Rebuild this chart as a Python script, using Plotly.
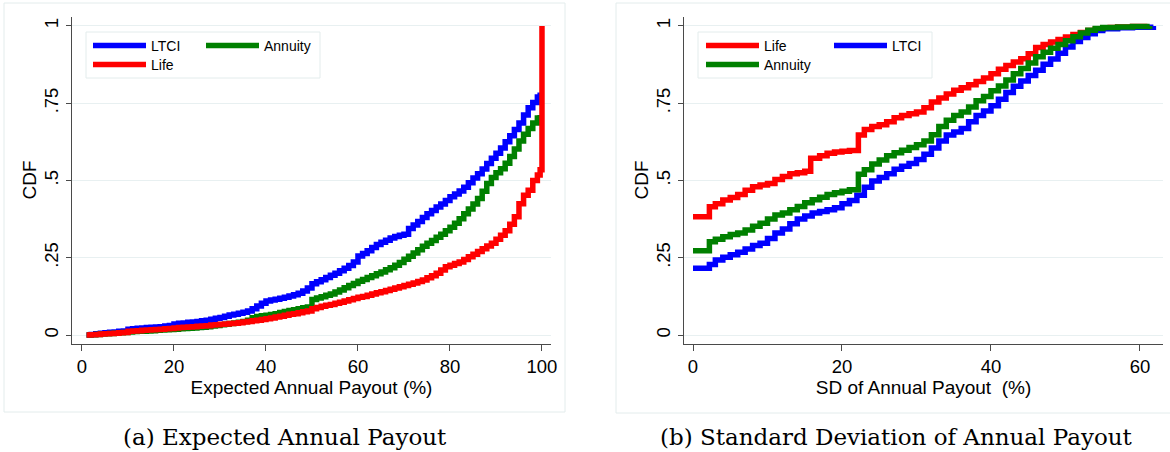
import plotly.graph_objects as go

# ---------------- data ----------------
# Panel (a): Expected Annual Payout (%)
a_ltci_x = [1, 2, 3, 4, 5, 6, 7, 8, 9, 10, 11, 12, 13, 14, 15, 16, 17, 18, 19, 20, 21, 22, 23,
            24, 25, 26, 27, 28, 29, 30, 31, 32, 33, 34, 35, 36, 37, 38, 39, 40, 41, 42, 43, 44,
            45, 46, 47, 48, 49, 50, 51, 52, 53, 54, 55, 56, 57, 58, 59, 60, 61, 62, 63, 64, 65,
            66, 67, 68, 69, 70, 71, 72, 73, 74, 75, 76, 77, 78, 79, 80, 81, 82, 83, 84, 85, 86,
            87, 88, 89, 90, 91, 92, 93, 94, 95, 96, 97, 98, 99, 99.6]
a_ltci_y = [0.000, 0.002, 0.004, 0.006, 0.007, 0.009, 0.010, 0.012, 0.013, 0.019, 0.020, 0.022,
            0.023, 0.024, 0.025, 0.026, 0.027, 0.029, 0.031, 0.036, 0.038, 0.039, 0.041, 0.042,
            0.044, 0.046, 0.048, 0.051, 0.054, 0.057, 0.061, 0.065, 0.067, 0.070, 0.074, 0.078,
            0.085, 0.094, 0.103, 0.110, 0.113, 0.116, 0.119, 0.122, 0.126, 0.130, 0.135, 0.142,
            0.152, 0.166, 0.172, 0.179, 0.186, 0.193, 0.200, 0.208, 0.216, 0.225, 0.236, 0.256,
            0.264, 0.273, 0.283, 0.293, 0.300, 0.307, 0.314, 0.319, 0.323, 0.326, 0.345, 0.356,
            0.367, 0.380, 0.392, 0.403, 0.414, 0.424, 0.435, 0.447, 0.456, 0.466, 0.478, 0.493,
            0.508, 0.522, 0.537, 0.555, 0.572, 0.588, 0.605, 0.625, 0.645, 0.665, 0.686, 0.712,
            0.735, 0.752, 0.770, 0.785]

a_ann_x = a_ltci_x
a_ann_y = [0.000, 0.001, 0.002, 0.003, 0.004, 0.005, 0.006, 0.007, 0.008, 0.010, 0.011, 0.012,
           0.012, 0.013, 0.014, 0.015, 0.016, 0.017, 0.018, 0.019, 0.020, 0.021, 0.022, 0.023,
           0.024, 0.025, 0.027, 0.029, 0.031, 0.033, 0.035, 0.037, 0.039, 0.041, 0.044, 0.048,
           0.056, 0.060, 0.062, 0.064, 0.066, 0.069, 0.073, 0.076, 0.079, 0.082, 0.085, 0.088,
           0.091, 0.115, 0.120, 0.124, 0.129, 0.133, 0.139, 0.146, 0.153, 0.160, 0.167, 0.174,
           0.180, 0.186, 0.192, 0.198, 0.204, 0.211, 0.218, 0.226, 0.235, 0.245, 0.255, 0.265,
           0.276, 0.287, 0.297, 0.306, 0.316, 0.326, 0.337, 0.349, 0.362, 0.376, 0.392, 0.408,
           0.424, 0.442, 0.465, 0.490, 0.510, 0.525, 0.538, 0.556, 0.578, 0.602, 0.628, 0.650,
           0.668, 0.686, 0.702, 0.712]

a_life_x = a_ltci_x + [100]
a_life_y = [0.000, 0.001, 0.002, 0.003, 0.004, 0.005, 0.006, 0.007, 0.008, 0.012, 0.013, 0.014,
            0.015, 0.016, 0.017, 0.018, 0.019, 0.020, 0.021, 0.023, 0.024, 0.025, 0.026, 0.027,
            0.028, 0.029, 0.030, 0.032, 0.033, 0.035, 0.036, 0.037, 0.038, 0.040, 0.042, 0.044,
            0.046, 0.048, 0.050, 0.053, 0.055, 0.058, 0.061, 0.064, 0.067, 0.069, 0.072, 0.075,
            0.078, 0.085, 0.089, 0.093, 0.096, 0.099, 0.103, 0.106, 0.110, 0.114, 0.118, 0.122,
            0.125, 0.129, 0.133, 0.137, 0.140, 0.144, 0.148, 0.152, 0.156, 0.160, 0.164, 0.168,
            0.173, 0.178, 0.185, 0.192, 0.200, 0.210, 0.221, 0.226, 0.231, 0.236, 0.244, 0.253,
            0.261, 0.270, 0.279, 0.288, 0.297, 0.310, 0.323, 0.337, 0.358, 0.383, 0.425, 0.452,
            0.468, 0.500, 0.518, 0.535, 1.000]

# Panel (b): SD of Annual Payout (%)
b_life_x = [0, 2.2, 3, 4, 5, 6, 7, 8, 9, 10, 11, 12, 13, 14, 15, 15.8, 17, 18, 19, 20, 21,
            22.2, 23, 24, 25, 26, 27, 28, 29, 30, 31, 32, 33, 34, 35, 36, 37, 38, 39, 40, 41,
            42, 43, 44, 45, 46, 47, 48, 49, 50, 51, 52, 53, 54, 55, 56, 57, 59, 61]
b_life_y = [0.383, 0.415, 0.425, 0.437, 0.445, 0.455, 0.468, 0.480, 0.485, 0.490, 0.503, 0.513,
            0.522, 0.525, 0.530, 0.572, 0.580, 0.588, 0.592, 0.595, 0.597, 0.647, 0.665, 0.675,
            0.680, 0.690, 0.703, 0.710, 0.716, 0.722, 0.735, 0.754, 0.767, 0.780, 0.792, 0.800,
            0.810, 0.820, 0.832, 0.845, 0.860, 0.872, 0.883, 0.894, 0.910, 0.930, 0.940, 0.948,
            0.956, 0.964, 0.972, 0.979, 0.985, 0.990, 0.993, 0.995, 0.997, 0.998, 1.000]

b_ltci_x = [0, 2.2, 3, 4, 5, 6, 7, 8, 9, 10, 11, 12, 13, 14, 15, 16, 17, 18, 19, 20, 21, 22,
            23, 24, 25, 26, 27, 28, 29, 30, 31, 32, 33, 34, 35, 36, 37, 38, 39, 40, 41, 42, 43,
            44, 45, 46, 47, 48, 49, 50, 51, 52, 53, 54, 55, 57, 59, 61.8]
b_ltci_y = [0.216, 0.228, 0.243, 0.252, 0.260, 0.268, 0.278, 0.290, 0.297, 0.312, 0.330, 0.343,
            0.360, 0.375, 0.385, 0.395, 0.400, 0.405, 0.412, 0.425, 0.435, 0.452, 0.478, 0.498,
            0.510, 0.522, 0.536, 0.546, 0.555, 0.568, 0.585, 0.605, 0.628, 0.647, 0.657, 0.668,
            0.690, 0.710, 0.725, 0.742, 0.763, 0.785, 0.805, 0.822, 0.840, 0.857, 0.876, 0.893,
            0.912, 0.932, 0.950, 0.963, 0.975, 0.985, 0.991, 0.994, 0.996, 1.000]

b_ann_x = [0, 2.2, 3, 4, 5, 6, 7, 8, 9, 10, 11, 12, 13, 14, 15, 16, 17, 18, 19, 20, 21, 22.2,
           23, 24, 25, 26, 27, 28, 29, 30, 31, 32, 33, 34, 35, 36, 37, 38, 39, 40, 41, 42, 43,
           44, 45, 46, 47, 48, 49, 50, 51, 52, 53, 54, 55, 57, 59, 61.3]
b_ann_y = [0.273, 0.302, 0.310, 0.318, 0.325, 0.330, 0.340, 0.352, 0.362, 0.375, 0.388, 0.395,
           0.405, 0.416, 0.428, 0.438, 0.446, 0.455, 0.460, 0.465, 0.470, 0.520, 0.535, 0.553,
           0.566, 0.580, 0.590, 0.598, 0.607, 0.616, 0.628, 0.648, 0.675, 0.695, 0.710, 0.722,
           0.738, 0.758, 0.772, 0.790, 0.806, 0.825, 0.845, 0.862, 0.880, 0.900, 0.915, 0.928,
           0.940, 0.952, 0.965, 0.977, 0.986, 0.992, 0.995, 0.997, 0.998, 1.000]

y_tickvals = [0, 0.25, 0.5, 0.75, 1]
y_ticktext = ["0", ".25", ".5", ".75", "1"]
a_xticks = [0, 20, 40, 60, 80, 100]
b_xticks = [0, 20, 40, 60]

captions = ["(a) Expected Annual Payout", "(b) Standard Deviation of Annual Payout"]
x_titles = ["Expected Annual Payout (%)", "SD of Annual Payout  (%)"]
y_title = "CDF"

# ---------------- styling ----------------
W, H = 1170, 452
BLUE, GREEN, RED = "#0000ff", "#008000", "#ff0000"
LW = 5.5
SANS = "Liberation Sans, Arial, sans-serif"
SERIF = "DejaVu Serif, serif"
GRID = "#e8f0f1"
AXC = "#4a4a4a"
TICK_FS = 18.5
TITLE_FS = 19


def px(x):
    return x / W


def py(y):
    return 1 - y / H


fig = go.Figure()


def add(x, y, name, color, xa, ya, legend):
    fig.add_trace(go.Scatter(
        x=x, y=y, name=name, mode="lines",
        line=dict(color=color, width=LW, shape="hv"),
        xaxis=xa, yaxis=ya, legend=legend, hoverinfo="skip"))


# panel (a): draw order LTCI, Annuity, Life
add(a_ltci_x, a_ltci_y, "LTCI", BLUE, "x", "y", "legend")
add(a_ann_x, a_ann_y, "Annuity", GREEN, "x", "y", "legend2")
add(a_life_x, a_life_y, "Life", RED, "x", "y", "legend3")
# panel (b): draw order Life, LTCI, Annuity
add(b_life_x, b_life_y, "Life", RED, "x2", "y2", "legend4")
add(b_ltci_x, b_ltci_y, "LTCI", BLUE, "x2", "y2", "legend5")
add(b_ann_x, b_ann_y, "Annuity", GREEN, "x2", "y2", "legend6")

ydom = [py(344), py(17)]
common_x = dict(showgrid=False, zeroline=False, showline=True, linecolor=AXC, linewidth=1,
                ticks="outside", ticklen=6, tickcolor=AXC, tickwidth=1,
                tickfont=dict(family=SANS, size=TICK_FS, color="#000"), automargin=False,
                fixedrange=True)
common_y = dict(showgrid=True, gridcolor=GRID, gridwidth=1, zeroline=False, showline=True,
                linecolor=AXC, linewidth=1, ticks="outside", ticklen=5, tickcolor=AXC,
                tickwidth=1, tickangle=-90, tickvals=y_tickvals, ticktext=y_ticktext,
                ticklabelstandoff=1,
                tickfont=dict(family=SANS, size=TICK_FS, color="#000"), automargin=False,
                range=[-0.0291, 1.029], domain=ydom, fixedrange=True)

leg_common = dict(orientation="v", bgcolor="rgba(0,0,0,0)", borderwidth=0,
                  font=dict(family=SANS, size=14, color="#000"), xanchor="left",
                  yanchor="top", itemwidth=53, itemclick=False, itemdoubleclick=False)

ROW1, ROW2 = 30, 49
fig.update_layout(
    width=W, height=H, margin=dict(l=0, r=0, t=0, b=0), template="none",
    paper_bgcolor="white", plot_bgcolor="white", showlegend=True,
    xaxis=dict(common_x, domain=[px(72), px(551)], range=[-2.17, 101.96],
               tickvals=a_xticks, anchor="y",
               title=dict(text=x_titles[0],
                          font=dict(family=SANS, size=TITLE_FS, color="#000"), standoff=0)),
    yaxis=dict(common_y, anchor="x"),
    xaxis2=dict(common_x, domain=[px(684), px(1163)], range=[-1.208, 63.09],
                tickvals=b_xticks, anchor="y2",
                title=dict(text=x_titles[1],
                           font=dict(family=SANS, size=TITLE_FS, color="#000"), standoff=0)),
    yaxis2=dict(common_y, anchor="x2"),
    legend=dict(leg_common, x=px(88), y=py(ROW1)),
    legend2=dict(leg_common, x=px(201), y=py(ROW1)),
    legend3=dict(leg_common, x=px(88), y=py(ROW2)),
    legend4=dict(leg_common, x=px(701), y=py(ROW1)),
    legend5=dict(leg_common, x=px(829), y=py(ROW1)),
    legend6=dict(leg_common, x=px(701), y=py(ROW2)),
)

# outer panel boxes and legend boxes
for (x0, y0, x1, y1) in [(4, 3, 565, 412), (616, 3, 1172, 413),
                         (86, 32, 320, 78), (698, 32, 932, 78)]:
    fig.add_shape(type="rect", xref="paper", yref="paper", x0=px(x0), x1=px(x1),
                  y0=py(y1), y1=py(y0), line=dict(color="#e3ecec", width=1),
                  fillcolor="rgba(0,0,0,0)", layer="below")

# y-axis titles (rotated) placed like the reference
for cx in [29, 641]:
    fig.add_annotation(x=px(cx), y=py(180.5), xref="paper", yref="paper", text=y_title,
                       showarrow=False, textangle=-90, xanchor="center", yanchor="middle",
                       font=dict(family=SANS, size=TITLE_FS, color="#000"))

# captions
for cx, txt in zip([285, 896], captions):
    fig.add_annotation(x=px(cx), y=py(437), xref="paper", yref="paper", text=txt,
                       showarrow=False, xanchor="center", yanchor="middle",
                       font=dict(family=SERIF, size=23, color="#000"))

fig.write_html("out.html")
